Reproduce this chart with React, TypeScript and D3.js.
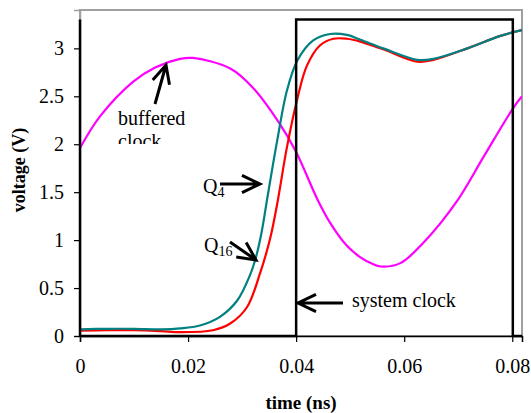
import React, { useRef, useEffect } from "react";
import * as d3 from "d3";

// buffered clock (magenta)
const bufTime = [0, 0.0037, 0.0098, 0.0139, 0.0185, 0.0209, 0.0278, 0.032, 0.037, 0.04, 0.0439, 0.0463, 0.0494, 0.0519, 0.054, 0.0557, 0.0593, 0.0635, 0.0698, 0.0746, 0.0802, 0.0818];
const bufVolt = [1.96, 2.29, 2.65, 2.8, 2.89, 2.9, 2.79, 2.59, 2.21, 1.92, 1.43, 1.18, 0.94, 0.82, 0.755, 0.725, 0.76, 0.97, 1.41, 1.86, 2.38, 2.5];

// Q4 (teal)
const q4Time = [0, 0.005, 0.01, 0.015, 0.0185, 0.0222, 0.0259, 0.0291, 0.0315, 0.0326, 0.0336, 0.0347, 0.0365, 0.0383, 0.0402, 0.0431, 0.0463, 0.0494, 0.0519, 0.0561, 0.0624, 0.0654, 0.0717, 0.0778, 0.0818];
const q4Volt = [0.07, 0.075, 0.075, 0.07, 0.08, 0.11, 0.2, 0.37, 0.64, 0.83, 1.08, 1.45, 2.04, 2.56, 2.87, 3.08, 3.15, 3.14, 3.09, 3.0, 2.88, 2.89, 3.0, 3.13, 3.19];

// Q16 (red)
const q16Time = [0, 0.005, 0.01, 0.015, 0.0185, 0.0246, 0.0278, 0.0309, 0.0333, 0.0352, 0.0365, 0.0383, 0.0402, 0.042, 0.0444, 0.0469, 0.0494, 0.0519, 0.0561, 0.0624, 0.0654, 0.0717, 0.0778, 0.0818];
const q16Volt = [0.055, 0.06, 0.06, 0.05, 0.04, 0.06, 0.13, 0.3, 0.65, 1.02, 1.38, 1.97, 2.47, 2.82, 3.03, 3.1, 3.1, 3.07, 2.99, 2.86, 2.88, 3.0, 3.13, 3.19];

// system clock (black square wave)
const clkTime = [0, 0, 0.04, 0.04, 0.0801, 0.0801, 0.0818];
const clkVolt = [3.3, 0, 0, 3.3, 3.3, 0, 0];

const xTicks = [0, 0.02, 0.04, 0.06, 0.08];
const yTicks = [0, 0.5, 1, 1.5, 2, 2.5, 3];

const FONT = "'Liberation Serif', 'Times New Roman', serif";

export default function App() {
  const svgRef = useRef<SVGSVGElement>(null);

  useEffect(() => {
    d3.select(svgRef.current).selectAll("*").remove();

    const width = 531;
    const height = 413;
    const left = 80, right = 522, top = 10, bottom = 336;

    const svg = d3.select(svgRef.current)
      .attr("width", width)
      .attr("height", height);

    const x = d3.scaleLinear().domain([0, 0.0818]).range([left, right]);
    const y = d3.scaleLinear().domain([0, 3.4]).range([bottom, top]);

    // plot frame
    svg.append("rect")
      .attr("x", left)
      .attr("y", top)
      .attr("width", right - left)
      .attr("height", bottom - top)
      .attr("fill", "none")
      .attr("stroke", "#a0a0a0")
      .attr("stroke-width", 2);

    // axes
    const xAxis = d3.axisBottom(x)
      .tickValues(xTicks)
      .tickSize(6)
      .tickPadding(17)
      .tickFormat(d => (+d === 0 ? "0" : d3.format(".2f")(+d)));

    const yAxis = d3.axisLeft(y)
      .tickValues(yTicks)
      .tickSize(6)
      .tickPadding(10)
      .tickFormat(d => String(+d));

    const gx = svg.append("g")
      .attr("transform", `translate(0,${bottom})`)
      .call(xAxis);
    const gy = svg.append("g")
      .attr("transform", `translate(${left},0)`)
      .call(yAxis);

    gy.select(".domain").attr("stroke", "#a0a0a0").attr("stroke-width", 1.5);
    gx.select(".domain").attr("stroke", "#000").attr("stroke-width", 1.5);
    [gx, gy].forEach(g => {
      g.selectAll(".tick line").attr("stroke", "#000").attr("stroke-width", 1.2);
      g.selectAll(".tick text")
        .attr("font-family", FONT)
        .attr("font-size", 20)
        .attr("fill", "#000");
    });

    const line = d3.line<[number, number]>()
      .x(d => x(d[0]))
      .y(d => y(d[1]))
      .curve(d3.curveCatmullRom);

    const series = [
      { t: bufTime, v: bufVolt, color: "#ff00ff" },
      { t: q16Time, v: q16Volt, color: "#ff0000" },
      { t: q4Time, v: q4Volt, color: "#008080" },
    ];

    svg.append("clipPath")
      .attr("id", "plot-clip")
      .append("rect")
      .attr("x", left)
      .attr("y", top)
      .attr("width", right - left)
      .attr("height", bottom - top);

    svg.append("g")
      .attr("clip-path", "url(#plot-clip)")
      .selectAll("path")
      .data(series)
      .join("path")
      .attr("d", s => line(s.t.map((t, i) => [t, s.v[i]] as [number, number])))
      .attr("fill", "none")
      .attr("stroke", s => s.color)
      .attr("stroke-width", 2.2);

    // system clock
    svg.append("path")
      .attr("d", d3.line<[number, number]>().x(d => x(d[0])).y(d => y(d[1]))(
        clkTime.map((t, i) => [t, clkVolt[i]] as [number, number])))
      .attr("fill", "none")
      .attr("stroke", "#000")
      .attr("stroke-width", 2.5);

    // annotations
    const text = (tx: number, ty: number, s: string) =>
      svg.append("text")
        .attr("x", tx)
        .attr("y", ty)
        .attr("font-family", FONT)
        .attr("font-size", 20)
        .attr("fill", "#000")
        .text(s);

    const arrow = (x1: number, y1: number, x2: number, y2: number) => {
      const a = Math.atan2(y2 - y1, x2 - x1);
      const h = 20, w = 0.45;
      svg.append("path")
        .attr("d", `M${x1},${y1}L${x2},${y2}` +
          `M${x2 - h * Math.cos(a - w)},${y2 - h * Math.sin(a - w)}L${x2},${y2}` +
          `L${x2 - h * Math.cos(a + w)},${y2 - h * Math.sin(a + w)}`)
        .attr("fill", "none")
        .attr("stroke", "#000")
        .attr("stroke-width", 3);
    };

    text(118, 125, "buffered");
    svg.append("clipPath")
      .attr("id", "clock-clip")
      .append("rect")
      .attr("x", 100)
      .attr("y", 128)
      .attr("width", 100)
      .attr("height", 16);
    text(118, 148, "clock").attr("clip-path", "url(#clock-clip)");
    arrow(155, 104, 166, 65);

    const q4 = text(203, 193, "Q");
    q4.append("tspan").attr("font-size", 14).attr("dy", 4).text("4");
    arrow(220, 184, 260, 184);

    const q16 = text(204, 252, "Q");
    q16.append("tspan").attr("font-size", 14).attr("dy", 4).text("16");
    arrow(230, 242, 256, 260);

    text(352, 307, "system clock");
    arrow(343, 303, 298, 303);

    // axis titles
    svg.append("text")
      .attr("x", 301)
      .attr("y", 409)
      .attr("text-anchor", "middle")
      .attr("font-family", FONT)
      .attr("font-weight", "bold")
      .attr("font-size", 19)
      .text("time (ns)");

    svg.append("text")
      .attr("transform", "translate(25,170) rotate(-90)")
      .attr("text-anchor", "middle")
      .attr("font-family", FONT)
      .attr("font-weight", "bold")
      .attr("font-size", 18)
      .text("voltage (V)");
  }, []);

  return (
    <div style={{ position: "absolute", left: 0, top: 0 }}>
      <svg ref={svgRef}></svg>
    </div>
  );
}
